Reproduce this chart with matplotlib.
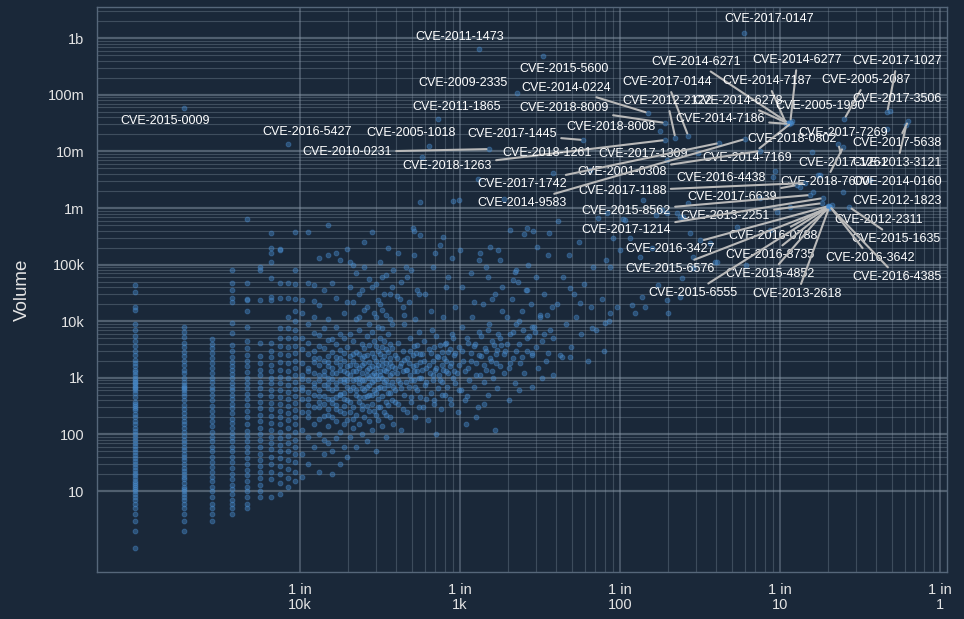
import numpy as np
import matplotlib
matplotlib.use("Agg")
import matplotlib.pyplot as plt
from matplotlib import text as mtext

plt.rcParams['font.family'] = ['Liberation Sans', 'DejaVu Sans']

# ---------------- data ----------------
N_TOTAL = 107000  # probability = count / N_TOTAL

# vertical "columns" for small counts: count -> list of volumes
column_volumes = {
    1: [1, 2, 3, 4, 5, 6, 7, 8, 9, 10, 11, 12, 13, 14, 15, 17, 19, 21, 24, 27, 30, 34, 38, 43, 48, 55, 62,
        70, 80, 90, 100, 115, 130, 150, 170, 200, 230, 270, 290, 320, 340, 380, 450, 540, 600, 650, 700,
        760, 800, 850, 900, 1000, 1100, 1250, 1400, 1600, 1800, 2100, 2500, 3000, 3700, 4500, 5500, 7000,
        9000, 16000, 18000, 33000, 44000],
    2: [2, 3, 4, 5, 6, 7, 8, 9, 10, 11, 12, 14, 16, 18, 20, 23, 26, 30, 35, 40, 46, 52, 60, 70, 80, 95, 110,
        130, 150, 175, 200, 240, 280, 330, 400, 470, 550, 600, 650, 700, 750, 850, 1000, 1200, 1400, 1700,
        2000, 2400, 2900, 3500, 4200, 5200, 6500, 8000],
    3: [3, 4, 5, 6, 8, 10, 12, 15, 18, 22, 27, 33, 40, 50, 60, 75, 90, 110, 140, 170, 210, 260, 320, 400,
        500, 600, 700, 850, 1000, 1200, 1500, 1800, 2200, 2700, 3300, 4000, 4900],
    4: [4, 5, 6, 7, 9, 11, 13, 16, 20, 26, 32, 40, 50, 60, 75, 90, 105, 130, 160, 190, 240, 290, 350, 420,
        500, 600, 700, 820, 1000, 1150, 1350, 1600, 1900, 2300, 3000, 3800, 6200, 9300, 22000, 26000,
        35000, 48000, 79000],
    5: [5, 6, 8, 10, 12, 15, 19, 24, 30, 38, 48, 60, 75, 95, 115, 150, 200, 260, 330, 420, 520, 650, 800,
        1000, 1250, 1600, 2000, 2500, 3300, 4500, 8000, 15000, 24000, 25000, 48000, 630000],
    6: [8, 10, 13, 17, 22, 28, 36, 46, 60, 80, 100, 130, 170, 220, 290, 380, 500, 650, 850, 1100, 1400,
        1800, 2400, 4100, 24000, 80000, 90000],
    7: [8, 16, 22, 30, 40, 55, 70, 90, 120, 160, 210, 280, 360, 470, 600, 800, 1000, 1300, 1700, 2300,
        3000, 4200, 24000, 27000, 58000, 110000, 160000, 200000, 360000],
    8: [9, 14, 20, 28, 38, 50, 65, 85, 110, 150, 200, 260, 340, 450, 600, 800, 1050, 1400, 1900, 2600,
        3600, 5000, 7500, 26000, 48000, 180000, 190000],
    9: [12, 17, 25, 35, 50, 70, 95, 130, 180, 240, 320, 420, 560, 750, 1000, 1300, 1800, 2500, 3500, 5000,
        7500, 12000, 26000, 48000],
    10: [15, 22, 32, 45, 60, 80, 110, 150, 200, 270, 360, 480, 640, 850, 1100, 1500, 2000, 2700, 3600,
         5000, 7000, 10000, 15000, 25000, 45000, 80000, 370000],
    11: [18, 45, 120, 250, 420, 700, 1100, 1800, 3200, 5000, 14000, 24000],
    12: [30, 90, 200, 330, 560, 900, 1500, 2600, 4100, 9000, 48000, 370000],
    13: [60, 150, 300, 500, 800, 1200, 1900, 3000, 6300, 12000, 44000, 23000],
    14: [22, 100, 190, 380, 600, 1100, 1700, 2200, 3600, 5600, 130000, 19000],
    15: [45, 80, 210, 470, 750, 1300, 2000, 3300, 7500, 35000],
    16: [70, 140, 280, 420, 650, 1000, 1600, 2400, 4600, 11000, 500000, 150000],
    17: [20, 50, 200, 360, 620, 950, 1500, 2900, 4800, 48000],
    18: [85, 170, 330, 450, 800, 1200, 1900, 3900, 8000, 26000, 160000],
    19: [30, 110, 260, 500, 900, 1400, 2200, 3100, 6000, 120000],
    20: [60, 150, 320, 550, 850, 1300, 2000, 2700, 5000, 14000],
    21: [40, 180, 400, 900, 1600, 3500, 22000, 190000],
    22: [90, 250, 600, 1100, 2400, 6000, 110000, 40000],
    23: [130, 300, 700, 1300, 2000, 4500, 100000, 22000],
    24: [60, 220, 500, 950, 1700, 2900, 11000, 70000],
    25: [150, 380, 800, 1500, 2600, 7000, 30000, 12000],
    26: [100, 280, 650, 1200, 2200, 4000, 35000],
    27: [200, 450, 900, 1800, 3300, 16000, 250000, 90000],
    28: [75, 320, 700, 1400, 2500, 5500, 18000],
    29: [170, 500, 1000, 1900, 3800, 9000, 55000],
    30: [120, 350, 850, 1600, 2800, 6500, 40000, 370000],
    31: [260, 600, 1200, 2300, 4400, 14000],
    32: [50, 220, 550, 1100, 2000, 3600, 12000, 45000],
    33: [180, 420, 950, 1700, 3000, 8000, 24000],
    34: [300, 700, 1300, 2600, 5000, 20000, 110000],
    35: [140, 480, 1000, 2100, 3500, 7500, 60000, 16000],
    36: [250, 650, 1400, 2400, 4500, 30000],
    37: [90, 380, 900, 1800, 3200, 13000, 65000],
    38: [330, 750, 1500, 2900, 6000, 200000],
    39: [200, 550, 1100, 2200, 4000, 30000, 11000],
    40: [400, 850, 1600, 3300, 9000, 40000],
}

# remaining unlabeled points: (count, volume)
cloud_points = [
    (41, 150), (41, 80000), (42, 600), (42, 2500), (43, 1200), (43, 28000), (44, 350), (44, 4200),
    (44, 160000), (45, 800), (45, 25000), (46, 1800), (46, 120), (46, 50000), (47, 3000), (47, 18000),
    (48, 500), (48, 9000), (48, 13000), (49, 1400), (49, 91000), (50, 250), (50, 2200), (50, 60000),
    (51, 700), (51, 22000), (52, 5000), (52, 1100), (53, 380), (53, 80000), (54, 1600), (54, 450000),
    (55, 3600), (55, 900), (55, 150000), (55, 390000), (56, 200), (56, 11000), (57, 2800), (58, 1300),
    (58, 600), (58, 35000), (59, 6500), (59, 30000), (60, 450), (60, 1900), (60, 330000), (60, 1280000),
    (62, 7900000),
    (61, 1000), (62, 2600), (63, 300), (64, 4500), (65, 750), (65, 30000), (66, 1500), (67, 180),
    (68, 3200), (69, 1200), (70, 550), (70, 15000), (71, 7000), (72, 2000), (72, 90000), (73, 900),
    (74, 400), (75, 1400), (75, 160000), (76, 5500), (76, 100), (77, 2400), (78, 650), (79, 1100),
    (80, 3800), (80, 220000), (81, 280), (82, 1700), (83, 850), (84, 12000), (84, 310000), (85, 2200),
    (86, 500), (87, 1300), (88, 4200), (88, 40000), (89, 700), (90, 2900), (90, 60000), (92, 1600),
    (94, 350), (95, 6000), (95, 130000), (96, 1000), (97, 1330000), (98, 2500), (100, 800), (100, 18000),
    (102, 1200), (104, 250), (105, 3500), (106, 1380000), (107, 180000), (108, 600), (110, 8000),
    (110, 40000), (112, 2000), (115, 400), (116, 150), (118, 5000), (120, 1500), (122, 900),
    (125, 2800), (125, 70000), (128, 12000), (130, 700), (130, 22000), (132, 4000), (134, 200),
    (135, 1800), (138, 300), (139, 3250000), (140, 6500), (140, 120000), (142, 1100), (143, 160000),
    (145, 2400), (148, 20000), (150, 850), (152, 350), (153, 3300), (155, 90000), (156, 1400),
    (160, 500), (160, 60000), (163, 9000), (165, 205000), (166, 2000), (170, 4500), (170, 25000),
    (173, 1000), (176, 30000), (178, 120), (180, 2600), (183, 650), (183, 3100), (185, 180000),
    (186, 6000), (190, 1600), (190, 120000), (193, 3800), (195, 40000), (196, 15000), (200, 1200),
    (200, 1440000),
    (205, 3000), (210, 12000), (215, 1500), (215, 400), (220, 6000), (221, 410000), (225, 25000),
    (230, 2200), (230, 54000), (235, 800), (237, 74000), (240, 9000), (240, 80000), (245, 50000),
    (250, 4000), (250, 600), (255, 1800), (260, 15000), (265, 7000), (270, 1200), (270, 350000),
    (275, 35000), (280, 3000), (282, 35000), (282, 440000), (285, 100000), (290, 5500), (295, 20000),
    (300, 2500), (300, 700), (303, 2800), (307, 390000), (310, 8000), (316, 6500), (320, 60000),
    (326, 205000), (330, 1500), (340, 13000), (350, 4500), (350, 1000), (360, 30000), (370, 2000),
    (375, 13000), (380, 150000), (387, 360000), (390, 7000), (400, 18000),
    (410, 5000), (410, 1100), (410, 4150000), (430, 20000), (440, 590000), (450, 2500), (466, 2300),
    (470, 60000), (490, 9000), (510, 150000), (523, 39000), (523, 2300), (530, 3500), (550, 30000),
    (570, 12000), (590, 250000), (604, 21000), (610, 6000), (640, 45000), (670, 2000), (700, 18000),
    (718, 7600), (730, 90000), (760, 7000), (783, 660000), (820, 25000), (850, 3000), (866, 9300),
    (880, 120000), (891, 820000), (910, 10000), (931, 91000), (931, 14000), (970, 300000),
    (1029, 17800), (1074, 181000), (1122, 640000), (1155, 610000), (1241, 295000), (1277, 19300),
    (1334, 14000), (1433, 136000), (1476, 26800), (1496, 1380000), (1540, 17800), (1702, 196000),
    (1804, 750000), (1857, 43700), (1966, 920000), (2113, 23700), (2113, 7000000), (2113, 820000),
    (2143, 14000), (2440, 820000), (2548, 26800), (2548, 690000), (2624, 58000), (2660, 690000),
    (2858, 1220000), (2944, 360000), (3072, 136000), (3072, 87000), (3398, 272000), (3925, 241000),
    (4217, 111000), (4340, 111000), (5790, 460000), (6590, 98000), (8050, 1500000), (9310, 408000),
    (9720, 3530000), (10290, 850000), (12410, 1040000), (14320, 2350000), (17280, 1920000),
    (18570, 3830000), (19100, 3830000),
]

# dense core of the cloud: (count, volume)
core_points = [
    (11, 600), (11, 950), (12, 420), (12, 1300), (13, 700), (13, 2200), (14, 480), (14, 900), (15, 350),
    (15, 1100), (16, 800), (16, 1900), (17, 430), (17, 1200), (18, 650), (18, 2300), (19, 520), (19, 1700),
    (20, 950), (20, 420), (21, 700), (21, 1200), (22, 380), (22, 1700), (23, 900), (23, 2600), (24, 600),
    (24, 1300), (25, 1000), (25, 450), (26, 1700), (26, 900), (27, 600), (27, 2400), (28, 1100), (28, 480),
    (29, 750), (29, 1500), (30, 1100), (30, 500), (31, 900), (32, 1500), (33, 650), (34, 1100), (35, 1700),
    (36, 850), (37, 1300), (38, 550), (39, 1800), (40, 1200), (41, 700), (42, 1500), (43, 2200), (44, 900),
    (45, 1600), (46, 650), (47, 1300), (48, 2100), (49, 850), (50, 1400), (51, 1800), (52, 3000), (53, 900),
    (54, 2500), (55, 1300), (56, 700), (57, 1700), (58, 3800), (59, 1000), (60, 2600), (62, 1400),
    (64, 2000), (66, 850), (68, 1700), (70, 2800), (72, 1100), (74, 3500), (76, 1500), (78, 2300), (80, 900),
    (82, 2900), (84, 1400), (86, 4000), (88, 2000), (90, 1200), (92, 3200), (94, 1800), (96, 5000),
    (98, 1300), (100, 2700), (105, 1700), (110, 3000), (115, 1300), (120, 4200), (125, 2000), (130, 3600),
    (135, 1100), (140, 2500), (145, 5500), (150, 1700), (155, 3000), (160, 7000), (165, 2200), (170, 1300),
    (175, 3800), (180, 1800), (190, 5000), (200, 2600), (210, 4000), (220, 1800), (230, 6500), (240, 3000),
    (250, 10000), (260, 2300), (280, 5000), (300, 8000), (320, 3500), (340, 12000), (360, 6000),
    (380, 2800), (12, 250), (14, 300), (16, 220), (18, 280), (20, 240), (23, 190), (26, 330), (29, 260),
    (33, 300), (37, 220), (42, 380), (47, 280), (53, 450), (59, 300), (66, 420), (74, 350), (83, 500),
    (93, 420), (105, 600), (118, 480),
]

label_names = [
    "CVE-2017-0147", "CVE-2011-1473", "CVE-2015-0009", "CVE-2016-5427", "CVE-2005-1018",
    "CVE-2010-0231", "CVE-2011-1865", "CVE-2009-2335", "CVE-2015-5600", "CVE-2014-0224",
    "CVE-2018-8009", "CVE-2018-8008", "CVE-2017-1445", "CVE-2018-1263", "CVE-2018-1261",
    "CVE-2017-0144", "CVE-2012-2122", "CVE-2014-6271", "CVE-2014-6277", "CVE-2014-7187",
    "CVE-2014-6278", "CVE-2014-7186", "CVE-2014-7169", "CVE-2005-1990", "CVE-2005-2087",
    "CVE-2017-1027", "CVE-2017-3506", "CVE-2017-7269", "CVE-2017-5638", "CVE-2013-3121",
    "CVE-2018-0802", "CVE-2017-1261", "CVE-2018-7600", "CVE-2014-0160", "CVE-2012-1823",
    "CVE-2012-2311", "CVE-2015-1635", "CVE-2016-0788", "CVE-2016-3427", "CVE-2016-8735",
    "CVE-2015-6576", "CVE-2015-4852", "CVE-2015-6555", "CVE-2013-2618", "CVE-2016-3642",
    "CVE-2016-4385", "CVE-2013-2251", "CVE-2017-1214", "CVE-2017-6639", "CVE-2017-1188",
    "CVE-2015-8562", "CVE-2016-4438", "CVE-2001-0308", "CVE-2017-1309", "CVE-2017-1742",
    "CVE-2014-9583",
]
label_counts = [
    6397, 141, 2, 9, 68,
    163, 78, 244, 355, 1607,
    2053, 1910, 631, 2053, 698,
    2858, 2371, 12060, 12410, 11720,
    11860, 12230, 12590, 12770, 27000,
    50100, 52360, 50100, 67800, 65900,
    17030, 24770, 26600, 39240, 26600,
    22700, 29000, 21130, 21430, 21750,
    21430, 21430, 21130, 21750, 22070,
    21750, 19660, 19950, 13720, 15400,
    16560, 10000, 8050, 3304, 4467,
    6494,
]
label_volumes = [
    1.24e9, 6.44e8, 5.85e7, 1.35e7, 1.24e7,
    1.10e7, 3.73e7, 1.08e8, 4.85e8, 4.76e7,
    3.18e7, 2.29e7, 1.59e7, 1.59e7, 4.69e6,
    1.87e7, 1.73e7, 3.18e7, 3.30e7, 3.05e7,
    3.18e7, 3.05e7, 3.18e7, 3.44e7, 3.73e7,
    4.97e7, 5.18e7, 2.49e7, 3.44e7, 2.92e7,
    9.75e6, 1.35e7, 1.20e7, 3.13e6, 1.92e6,
    1.13e6, 1.04e6, 1.04e6, 1.08e6, 1.00e6,
    1.00e6, 1.04e6, 1.00e6, 1.04e6, 1.04e6,
    1.08e6, 1.22e6, 1.50e6, 2.55e6, 2.77e6,
    1.70e6, 4.51e6, 1.02e7, 9.40e6, 1.41e7,
    1.66e7,
]

# layout: label offsets from their point, in pixels (right, up)
label_offsets = [
    (25, 14), (-20, 12), (-18, -13), (19, 12), (-17, 13),
    (-142, -3), (19, 12), (-54, 10), (21, -13), (-82, 25),
    (-101, 15), (-49, 4), (-71, 6), (-218, -26), (-43, 17),
    (-21, 54), (-8, 37), (-92, 61), (7, 62), (-19, 43),
    (-49, 22), (-69, 5), (-44, -35), (28, 15), (22, 39),
    (10, 51), (7, 12), (-44, -4), (-11, -22), (-9, -38),
    (-20, 13), (5, -19), (-18, -35), (27, -2), (54, -9),
    (46, -15), (47, -32), (-54, -29), (-158, -43), (-59, -47),
    (-158, -61), (-58, -67), (-134, -85), (-32, -87), (40, -51),
    (68, -71), (-97, -13), (-197, -32), (-65, -12), (-183, -8),
    (-184, -16), (-54, -7), (-138, -21), (-55, -1), (-197, -41),
    (-223, -64),
]

x_ticks = [1e-4, 1e-3, 1e-2, 1e-1, 1.0]
x_ticklabels = ["1 in\n10k", "1 in\n1k", "1 in\n100", "1 in\n10", "1 in\n1"]
y_ticks = [1e1, 1e2, 1e3, 1e4, 1e5, 1e6, 1e7, 1e8, 1e9]
y_ticklabels = ["10", "100", "1k", "10k", "100k", "1m", "10m", "100m", "1b"]

# ---------------- style ----------------
BG = "#1a2839"
GRID = "#8796a6"
POINT = "#4a8fd2"
TEXT = "#ffffff"
TICK = "#e4e4e4"
SEG = "#b9b9b9"

fig = plt.figure(figsize=(9.64, 6.19), dpi=100, facecolor=BG)
ax = fig.add_axes([97 / 964, 1 - 572 / 619, 850 / 964, 565 / 619])
ax.set_facecolor(BG)
ax.set_xscale('log')
ax.set_yscale('log')
XLIM = (5.38e-6, 1.106)
YLIM = (0.371, 3.56e9)
ax.set_xlim(*XLIM)
ax.set_ylim(*YLIM)

# grid (major + 2..9 minor), drawn only over the labelled range
for e in range(-4, 1):
    for d in range(1, 10):
        xv = d * 10.0 ** e
        if xv > 1.0:
            break
        ax.axvline(xv, color=GRID, alpha=0.45 if d == 1 else 0.33, lw=1.3 if d == 1 else 0.8, zorder=0)
for e in range(1, 10):
    for d in range(1, 10):
        yv = d * 10.0 ** e
        if yv > YLIM[1]:
            break
        ax.axhline(yv, color=GRID, alpha=0.5 if d == 1 else 0.35, lw=1.6 if d == 1 else 0.8, zorder=0)

# points
xs, ys = [], []
for k, vols in column_volumes.items():
    for v in vols:
        xs.append(k / N_TOTAL)
        ys.append(v)
for k, v in cloud_points + core_points:
    xs.append(k / N_TOTAL)
    ys.append(v)
for k, v in zip(label_counts, label_volumes):
    xs.append(k / N_TOTAL)
    ys.append(v)
ax.scatter(xs, ys, s=12, color=POINT, alpha=0.4, linewidths=0.7, edgecolors=POINT, zorder=2)

# labels with leader segments
anns = []
for name, k, v, off in zip(label_names, label_counts, label_volumes, label_offsets):
    a = ax.annotate(name, xy=(k / N_TOTAL, v), xytext=off, textcoords='offset pixels',
                    ha='center', va='center', color=TEXT, fontsize=9, zorder=5,
                    arrowprops=dict(arrowstyle='-', color=SEG, lw=1.5, shrinkA=1, shrinkB=2))
    anns.append(a)

# ticks
ax.set_xticks(x_ticks)
ax.set_xticklabels(x_ticklabels)
ax.set_yticks(y_ticks)
ax.set_yticklabels(y_ticklabels)
ax.minorticks_off()
ax.tick_params(axis='both', length=0, colors=TICK, labelsize=10.5)
ax.tick_params(axis='x', pad=8)
ax.tick_params(axis='y', pad=9)
for lab in ax.get_xticklabels():
    lab.set_linespacing(1.1)
ax.set_ylabel("Volume", color=TICK, fontsize=13.5, labelpad=12)

for sp in ax.spines.values():
    sp.set_color("#56677a")
    sp.set_linewidth(1.0)

# hide segments for labels that sit right next to their point
fig.canvas.draw()
renderer = fig.canvas.get_renderer()
for a, k, v in zip(anns, label_counts, label_volumes):
    bb = mtext.Text.get_window_extent(a, renderer)
    px, py = ax.transData.transform((k / N_TOTAL, v))
    dx = max(bb.x0 - px, 0, px - bb.x1)
    dy = max(bb.y0 - py, 0, py - bb.y1)
    if np.hypot(dx, dy) < 12:
        a.arrow_patch.set_visible(False)

fig.savefig("out.png", dpi=100, facecolor=BG)
